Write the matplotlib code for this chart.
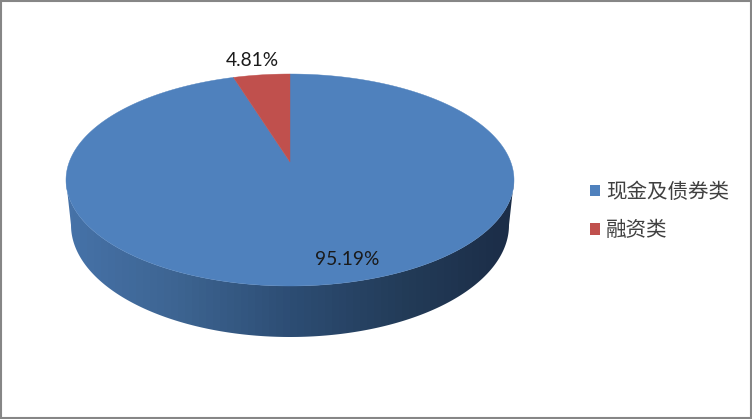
import numpy as np
import matplotlib
matplotlib.use('Agg')
import matplotlib.pyplot as plt
from matplotlib.patches import Polygon, Rectangle, Patch
from matplotlib.colors import LinearSegmentedColormap

plt.rcParams['font.family'] = ['Noto Sans CJK SC', 'DejaVu Sans']

names = ['现金及债券类', '融资类']
shares = [95.19, 4.81]
labels = ['95.19%', '4.81%']
colors = ['#4F81BD', '#C0504D']

W, H = 752, 419
##pie geometry in pixels, the top is a perspective view of a circle
cx, apex_y = 290, 162
top_y, bot_y = 74, 286
half_w = 224
##bottom rim of the side wall
wall_a, wall_b, wall_cy = 219, 112, 225


def rim(theta):
    ##theta in radians clockwise from 12 o'clock
    up = apex_y - top_y
    down = bot_y - apex_y
    p = (down - up) / (down + up)
    m = up * (1 + p)
    k = half_w * np.sqrt(1 - p**2)
    u, v = np.sin(theta), np.cos(theta)
    return cx + k * u / (1 + p * v), apex_y - m * v / (1 + p * v)


fig = plt.figure(figsize=(W / 100, H / 100), dpi=100)
ax = fig.add_axes([0, 0, 1, 1])

##side wall, shaded left to right
fx, fy = rim(np.linspace(0, 2 * np.pi, 720))
left_i, right_i = np.argmin(fx), np.argmax(fx)
front_x = fx[right_i:left_i + 1]
front_y = fy[right_i:left_i + 1]
s = np.linspace(np.pi, 0, 300)
wall_x = cx + wall_a * np.cos(s)
wall_y = wall_cy + wall_b * np.sin(s)
cmap = LinearSegmentedColormap.from_list('wall', ['#4672A8', '#3D6491', '#2D4D74', '#233C59', '#1B2D47'])
grad = np.linspace(0, 1, 64).reshape(1, -1)
im = ax.imshow(grad, cmap=cmap, extent=[cx - half_w, cx + half_w, 345, 170], aspect='auto', zorder=1)
ax.set_xlim(0, W)
ax.set_ylim(H, 0)
ax.axis('off')
wall = Polygon(np.column_stack([np.r_[front_x, wall_x], np.r_[front_y, wall_y]]),
               closed=True, fc='none', ec='none')
ax.add_patch(wall)
im.set_clip_path(wall)

##top face, walking round from 12 o'clock
start = 0.0
for share, col in zip(shares, colors):
    end = start + share / sum(shares) * 2 * np.pi
    th = np.linspace(start, end, 400)
    x, y = rim(th)
    ax.add_patch(Polygon(np.column_stack([np.r_[cx, x], np.r_[apex_y, y]]),
                         closed=True, fc=col, ec=col, lw=0.3, zorder=2))
    start = end

ax.text(347, 259, labels[0], fontsize=13.8, family='Lato', ha='center', va='center', color='#1a1a1a', zorder=3)
ax.text(252, 60, labels[1], fontsize=13.8, family='Lato', ha='center', va='center', color='#1a1a1a', zorder=3)

handles = [Patch(fc=c, ec='none') for c in colors]
ax.legend(handles, names, loc='center left', bbox_to_anchor=(590 / W, 1 - 211 / H),
          bbox_transform=fig.transFigure, frameon=False, fontsize=14.8,
          handlelength=0.48, handleheight=0.48, handletextpad=0.3,
          labelspacing=0.8, labelcolor='#404040', borderpad=0, borderaxespad=0)

##grey frame round the chart
ax.add_patch(Rectangle((1, 1), W - 2, H - 2, fc='none', ec='#868686', lw=1.5, zorder=5))

fig.savefig('out.png', dpi=100, facecolor='white')
